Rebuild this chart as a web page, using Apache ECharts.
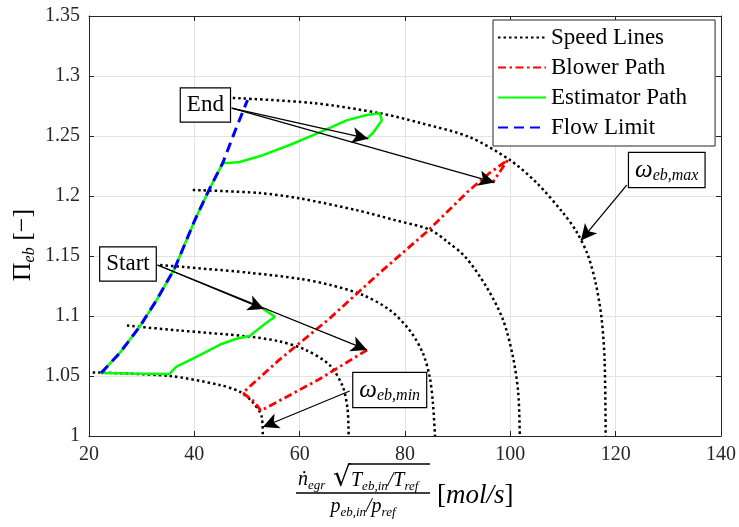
<!DOCTYPE html>
<html>
<head>
<meta charset="utf-8">
<script src="https://cdn.jsdelivr.net/npm/echarts@6/dist/echarts.min.js"></script>
<style>
    html, body { margin: 0; padding: 0; background: #fff; }
    #chart { width: 739px; height: 527px; }
</style>
</head>
<body>
<div id="chart"></div>
<script>
// speed lines (black dotted)
var speed1 = [[20.7,1.053],[35.3,1.05],[44.8,1.0425],[48.6,1.037],[51.1,1.028],[52.8,1.016],[53,1.0]];
var speed2 = [[27.2,1.092],[37,1.088],[50,1.083],[56,1.079],[61,1.072],[65.7,1.059],[68.2,1.041],[69.1,1.022],[69.3,1.0]];
var speed3 = [[33.5,1.1425],[50.5,1.136],[60,1.131],[65.7,1.126],[72,1.1175],[77.1,1.105],[80.9,1.088],[83.4,1.069],[84.7,1.049],[85.3,1.0275],[85.7,1.0]];
var speed4 = [[39.7,1.205],[52.4,1.2025],[60,1.198],[71,1.188],[78,1.18],[84.7,1.172],[88,1.162],[91.5,1.149],[95.5,1.124],[98.6,1.097],[100.5,1.066],[101.5,1.036],[101.8,1.0]];
var speed5 = [[47.3,1.2817],[62.5,1.2775],[75.2,1.269],[82.8,1.261],[92.3,1.249],[99.9,1.23],[105,1.211],[110,1.186],[112.6,1.17],[114.7,1.151],[116.2,1.1275],[117.3,1.099],[117.9,1.063],[118.1,1.0]];

var blowerPath = [[72.8,1.0717],[63.8,1.0475],[52.6,1.021],[52,1.025],[51,1.03],[49.2,1.036],[56,1.063],[65.7,1.098],[75.2,1.136],[84.1,1.17],[92,1.204],[96,1.219],[99.5,1.23],[96.6,1.211]];

var estimatorPath = [[53.2,1.1055],[55.3,1.0994],[54.2,1.096],[52.7,1.091],[50.5,1.0833],[48,1.081],[44.8,1.076],[40.4,1.066],[36.6,1.0578],[35.3,1.0517],[28,1.052],[22.3,1.0525],
    [25.8,1.069],[29.6,1.091],[32.8,1.113],[36.3,1.14],[40.2,1.181],[43,1.207],[45.4,1.2275],[46.5,1.2275],[48.6,1.2283],[53,1.234],[58.1,1.2425],[63.8,1.253],[68.9,1.263],[72.7,1.2675],[75.2,1.269],[75.6,1.263],[73.9,1.2525],[72.7,1.2475]];

var flowLimit = [[22.3,1.0525],[25.8,1.069],[29.6,1.091],[32.8,1.113],[36.3,1.14],[40.2,1.181],[43,1.207],[45.4,1.2275],[47.8,1.255],[50.1,1.28]];

// annotations: arrow [from, to] and text boxes, in data coords
var arrows = [
    [[47.1,1.2733],[73,1.2478]],
    [[47.1,1.2733],[97,1.2113]],
    [[33,1.1425],[53.2,1.1058]],
    [[33,1.1425],[72.8,1.0717]],
    [[69.5,1.0375],[53,1.0075]],
    [[122.1,1.209],[113.4,1.163]]
];
var boxes = [
    { at: [42.1,1.2758], text: '{t|End}' },
    { at: [27.4,1.1433], text: '{t|Start}' },
    { at: [77.1,1.0383], text: '{w|ω}{s|eb,min}' },
    { at: [129.7,1.2217], text: '{w|ω}{s|eb,max}' }
];

var xTicks = { min: 20, max: 140, step: 20 };
var yTicks = { min: 1, max: 1.35, step: 0.05 };

var serif = "'Liberation Serif', 'DejaVu Serif', serif";
var axisClr = '#262626';

function speedSeries(data) {
    return {
        name: 'Speed Lines',
        type: 'line',
        data: data,
        symbol: 'none',
        smooth: 0.3,
        itemStyle: { color: '#000' },
        lineStyle: { color: '#000', width: 2.5, type: [2.5, 3] },
        z: 2
    };
}

function boxLabel(b) {
    return {
        coord: b.at,
        value: 0,
        label: {
            show: true,
            position: 'inside',
            formatter: b.text,
            backgroundColor: '#fff',
            borderColor: '#000',
            borderWidth: 1.2,
            padding: [3, 6, 3, 6],
            rich: {
                t: { fontFamily: serif, fontSize: 23, color: '#000', lineHeight: 27 },
                w: { fontFamily: serif, fontSize: 25, fontStyle: 'italic', color: '#000', lineHeight: 28, verticalAlign: 'middle' },
                s: { fontFamily: serif, fontSize: 16, fontStyle: 'italic', color: '#000', lineHeight: 28, verticalAlign: 'bottom' }
            }
        }
    };
}

var chart = echarts.init(document.getElementById('chart'));

var series = [
    speedSeries(speed1), speedSeries(speed2), speedSeries(speed3), speedSeries(speed4), speedSeries(speed5),
    {
        name: 'Blower Path', type: 'line', data: blowerPath, symbol: 'none',
        itemStyle: { color: '#ff0000' },
        lineStyle: { color: '#ff0000', width: 2.8, type: [8, 3.5, 2.5, 3.5] }, z: 3
    },
    {
        name: 'Estimator Path', type: 'line', data: estimatorPath, symbol: 'none',
        itemStyle: { color: '#00ff00' },
        lineStyle: { color: '#00ff00', width: 2.5 }, z: 4
    },
    {
        name: 'Flow Limit', type: 'line', data: flowLimit, symbol: 'none',
        itemStyle: { color: '#0000ff' },
        lineStyle: { color: '#0000ff', width: 3, type: [10, 6] }, z: 5
    },
    {
        name: 'annot', type: 'line', data: [], symbol: 'none', z: 6,
        markLine: {
            silent: true, animation: false,
            symbol: ['none', 'arrow'], symbolSize: [12, 16],
            lineStyle: { color: '#000', width: 1.3, type: 'solid' },
            label: { show: false },
            emphasis: { disabled: true },
            data: arrows.map(function(a) { return [{ coord: a[0] }, { coord: a[1] }]; })
        },
        markPoint: {
            silent: true, animation: false,
            symbol: 'rect', symbolSize: 0,
            data: boxes.map(boxLabel)
        }
    }
];

var axisLabelStyle = { fontFamily: serif, fontSize: 20, color: axisClr };

var option = {
    animation: false,
    backgroundColor: '#fff',
    textStyle: { fontFamily: serif },
    grid: { left: 89, right: 18, top: 16, bottom: 91 },
    legend: {
        data: ['Speed Lines', 'Blower Path', 'Estimator Path', 'Flow Limit'],
        orient: 'vertical',
        left: 493, top: 20,
        itemWidth: 48, itemHeight: 12, itemGap: 7,
        padding: [6, 28, 7, 4],
        borderColor: axisClr, borderWidth: 1,
        backgroundColor: '#fff',
        itemStyle: { opacity: 0 },
        textStyle: { fontFamily: serif, fontSize: 23, color: '#000', lineHeight: 22 }
    },
    xAxis: [{
        type: 'value', min: xTicks.min, max: xTicks.max, interval: xTicks.step,
        axisLine: { show: true, onZero: false, lineStyle: { color: axisClr, width: 1 } },
        axisTick: { show: true, inside: true, length: 5, lineStyle: { color: axisClr } },
        axisLabel: Object.assign({ margin: 9 }, axisLabelStyle),
        splitLine: { show: true, lineStyle: { color: '#e3e3e3', width: 1 } }
    }, {
        type: 'value', position: 'top', min: xTicks.min, max: xTicks.max, interval: xTicks.step,
        axisLine: { show: true, onZero: false, lineStyle: { color: axisClr, width: 1 } },
        axisTick: { show: true, inside: true, length: 5, lineStyle: { color: axisClr } },
        axisLabel: { show: false }, splitLine: { show: false }
    }],
    yAxis: [{
        type: 'value', min: yTicks.min, max: yTicks.max, interval: yTicks.step,
        axisLine: { show: true, onZero: false, lineStyle: { color: axisClr, width: 1 } },
        axisTick: { show: true, inside: true, length: 5, lineStyle: { color: axisClr } },
        axisLabel: Object.assign({ margin: 9 }, axisLabelStyle),
        splitLine: { show: true, lineStyle: { color: '#e3e3e3', width: 1 } }
    }, {
        type: 'value', position: 'right', min: yTicks.min, max: yTicks.max, interval: yTicks.step,
        axisLine: { show: true, onZero: false, lineStyle: { color: axisClr, width: 1 } },
        axisTick: { show: true, inside: true, length: 5, lineStyle: { color: axisClr } },
        axisLabel: { show: false }, splitLine: { show: false }
    }],
    // axis titles (latex-ish, built from text pieces)
    graphic: [
        {
            type: 'text', x: 23, y: 245, rotation: Math.PI / 2,
            style: {
                text: '{a|Π}{s|eb}{a| [−]}', align: 'center', verticalAlign: 'middle',
                rich: {
                    a: { fontFamily: serif, fontSize: 26, fill: '#000', lineHeight: 30, verticalAlign: 'middle' },
                    s: { fontFamily: serif, fontSize: 16, fontStyle: 'italic', fill: '#000', lineHeight: 30, verticalAlign: 'bottom' }
                }
            }
        },
        {
            type: 'text', x: 298, y: 480,
            style: {
                text: '{i|ṅ}{s|egr}', align: 'left', verticalAlign: 'middle',
                rich: {
                    i: { fontFamily: serif, fontSize: 20, fontStyle: 'italic', fill: '#000', lineHeight: 24, verticalAlign: 'middle' },
                    s: { fontFamily: serif, fontSize: 13, fontStyle: 'italic', fill: '#000', lineHeight: 24, verticalAlign: 'bottom' }
                }
            }
        },
        {
            type: 'text', x: 333, y: 479,
            style: { text: '√', fontFamily: 'DejaVu Serif', fontSize: 28, fill: '#000', align: 'left', verticalAlign: 'middle' }
        },
        { type: 'line', shape: { x1: 349, y1: 464, x2: 430, y2: 464 }, style: { stroke: '#000', lineWidth: 1.3 } },
        {
            type: 'text', x: 351, y: 481,
            style: {
                text: '{i|T}{s|eb,in}{i|/T}{s|ref}', align: 'left', verticalAlign: 'middle',
                rich: {
                    i: { fontFamily: serif, fontSize: 20, fontStyle: 'italic', fill: '#000', lineHeight: 24, verticalAlign: 'middle' },
                    s: { fontFamily: serif, fontSize: 13, fontStyle: 'italic', fill: '#000', lineHeight: 24, verticalAlign: 'bottom' }
                }
            }
        },
        { type: 'line', shape: { x1: 296, y1: 493, x2: 430, y2: 493 }, style: { stroke: '#000', lineWidth: 1.3 } },
        {
            type: 'text', x: 363, y: 507,
            style: {
                text: '{i|p}{s|eb,in}{i|/p}{s|ref}', align: 'center', verticalAlign: 'middle',
                rich: {
                    i: { fontFamily: serif, fontSize: 20, fontStyle: 'italic', fill: '#000', lineHeight: 24, verticalAlign: 'middle' },
                    s: { fontFamily: serif, fontSize: 13, fontStyle: 'italic', fill: '#000', lineHeight: 24, verticalAlign: 'bottom' }
                }
            }
        },
        {
            type: 'text', x: 437, y: 496,
            style: {
                text: '{a|[}{i|mol/s}{a|]}', align: 'left', verticalAlign: 'middle',
                rich: {
                    a: { fontFamily: serif, fontSize: 27, fill: '#000' },
                    i: { fontFamily: serif, fontSize: 27, fontStyle: 'italic', fill: '#000' }
                }
            }
        }
    ],
    series: series
};

chart.setOption(option);
</script>
</body>
</html>
